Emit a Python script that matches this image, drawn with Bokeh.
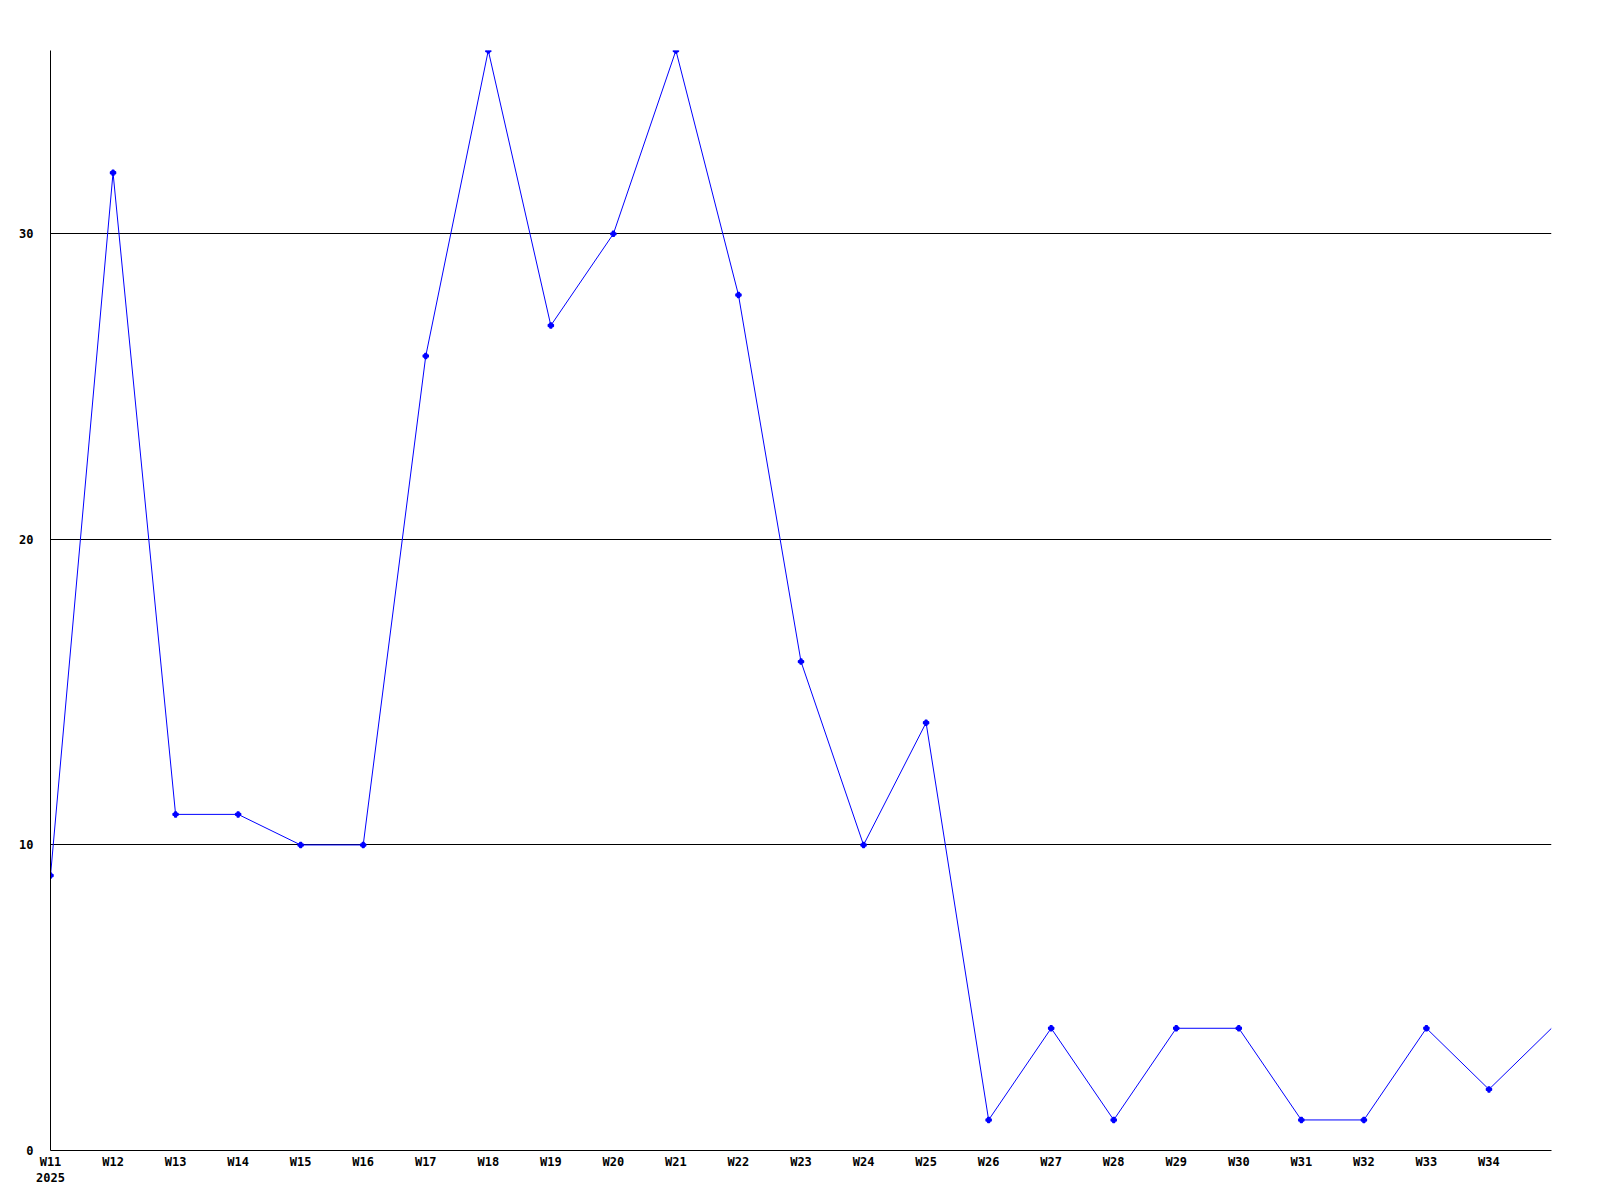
from bokeh.plotting import figure
from bokeh.models import Range1d, FixedTicker
from bokeh.embed import file_html
from bokeh.resources import INLINE

weeks = ["W11", "W12", "W13", "W14", "W15", "W16", "W17", "W18", "W19", "W20",
         "W21", "W22", "W23", "W24", "W25", "W26", "W27", "W28", "W29", "W30",
         "W31", "W32", "W33", "W34", "W35"]
values = [9, 32, 11, 11, 10, 10, 26, 36, 27, 30, 36, 28, 16, 10, 14, 1, 4, 1, 4, 4, 1, 1, 4, 2, 4]
year_label = "2025"
y_ticks = [0, 10, 20, 30]

x = list(range(len(weeks)))

p = figure(width=1592, height=1192, output_backend="svg", toolbar_location=None,
           x_range=Range1d(0, len(weeks) - 1), y_range=Range1d(0, 36),
           min_border_left=50, min_border_right=41, min_border_top=50, min_border_bottom=42)
p.outline_line_color = None
p.background_fill_color = "white"

p.xgrid.visible = False
p.ygrid.ticker = FixedTicker(ticks=y_ticks[1:])
p.ygrid.grid_line_color = "black"
p.ygrid.grid_line_width = 1

p.yaxis.ticker = FixedTicker(ticks=y_ticks)
p.xaxis.ticker = FixedTicker(ticks=x[:-1])
overrides = {i: w for i, w in enumerate(weeks[:-1])}
overrides[0] = weeks[0] + "\n" + year_label
p.xaxis.major_label_overrides = overrides

for ax in (p.xaxis, p.yaxis):
    ax.axis_line_color = "black"
    ax.axis_line_width = 1
    ax.major_tick_line_color = None
    ax.minor_tick_line_color = None
    ax.major_label_text_font = "DejaVu Sans Mono"
    ax.major_label_text_font_style = "bold"
    ax.major_label_text_font_size = "12px"
    ax.major_label_text_color = "black"
p.yaxis.major_label_standoff = 11
p.xaxis.major_label_standoff = -2

p.line(x, values, line_color="#0000ff", line_width=1)
p.scatter(x[:-1], values[:-1], marker="plus", size=5, line_color="#0000ff",
          fill_color="#0000ff", line_width=1.5)

open("out.html", "w").write(file_html(p, INLINE))
